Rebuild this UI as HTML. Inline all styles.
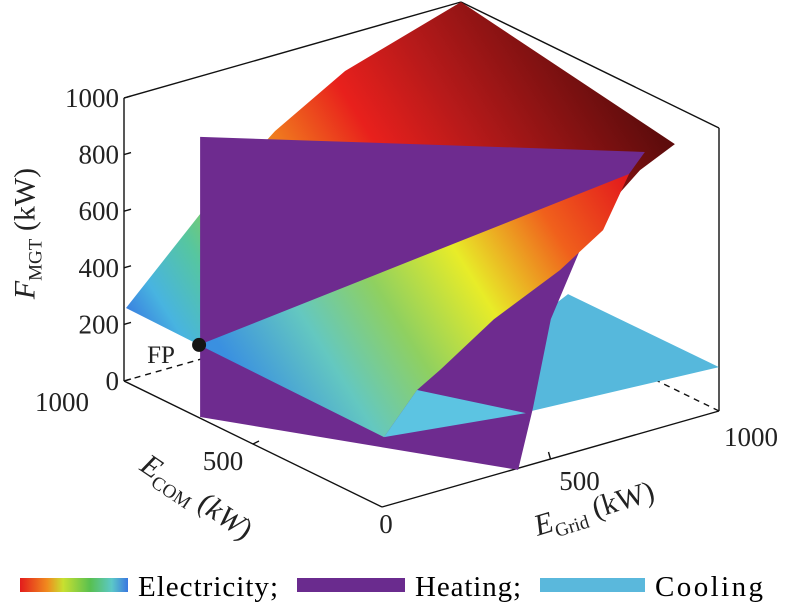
<!DOCTYPE html>
<html><head><meta charset="utf-8"><style>
html,body{margin:0;padding:0;background:#fff;}
svg{display:block;font-family:"Liberation Serif",serif;}
</style></head><body>
<svg id="chart" width="786" height="606" viewBox="0 0 786 606">
<defs>
<linearGradient id="elecGrad" gradientUnits="userSpaceOnUse" x1="600" y1="40" x2="140" y2="330">
<stop offset="0" stop-color="#5e0c0c"/><stop offset="0.3" stop-color="#b81a1a"/><stop offset="0.45" stop-color="#e8201c"/>
<stop offset="0.6" stop-color="#f07a1e"/><stop offset="0.72" stop-color="#9acc40"/><stop offset="0.84" stop-color="#56c6a0"/>
<stop offset="0.94" stop-color="#48b4e0"/><stop offset="1" stop-color="#3a82e0"/></linearGradient>
<linearGradient id="wedgeGrad" gradientUnits="userSpaceOnUse" x1="625" y1="180" x2="260" y2="410">
<stop offset="0" stop-color="#e31c1c"/><stop offset="0.2" stop-color="#f0601c"/><stop offset="0.42" stop-color="#e8ec28"/>
<stop offset="0.62" stop-color="#8fd060"/><stop offset="0.8" stop-color="#64c8c0"/><stop offset="1" stop-color="#3a90e0"/></linearGradient>
<linearGradient id="legGrad" x1="0" x2="1" y1="0" y2="0">
<stop offset="0" stop-color="#e31c1c"/><stop offset="0.25" stop-color="#f08a1e"/><stop offset="0.4" stop-color="#c8e030"/>
<stop offset="0.65" stop-color="#58c050"/><stop offset="0.85" stop-color="#5cc8c8"/><stop offset="1" stop-color="#3a78e0"/></linearGradient>
</defs>
<g id="axes"></g>
<g id="surfaces"></g>
<g id="labels"></g>
<g font-size="29">
<rect x="20" y="578" width="108" height="14" fill="url(#legGrad)"/>
<text x="138" y="596" textLength="140">Electricity;</text>
<rect x="297" y="578" width="108" height="14" fill="#6a2b8e"/>
<text x="415" y="596" textLength="106">Heating;</text>
<rect x="540" y="578" width="105" height="14" fill="#5ab8dc"/>
<text x="655" y="596" textLength="108">Cooling</text>
</g>
</svg>
<script>
// Data: points as [E_COM, E_Grid, F_MGT] in kW
const fTicks = [0, 200, 400, 600, 800, 1000];
const comTicks = [0, 500, 1000];
const gridTicks = [500, 1000];
const electricitySurface = [[1000,1000,1000],[171,1000,867],[306,1000,715],[0,53,219],[709,0,257],[1000,6,256],[1000,228,516],[1000,448,731],[1000,656,873]];
const coolingPlane = [[0,552,565],[0,1000,155],[0,442,189],[0,300,420]];
const heatingPlane = [[705,0,994],[0,780,990],[0,733,928],[0,590,715],[0,501,494],[0,448,198],[0,404,-6],[705,0,4]];
const electricityWedge = [[709,0,257],[0,733,928],[0,656,756],[0,528,658],[0,332,551],[0,175,428],[0,104,378],[0,6,245]];
const coolingTriangle = [[0,104,378],[0,427,187],[0,6,245]];
const fpPoint = [709,0,257];

function proj(c,g,f){ return [382 - 0.258*c + 0.337*g, 507 - 0.126*c - 0.096*g - 0.283*f]; }
const NS='http://www.w3.org/2000/svg';
function mk(tag, attrs, parent){ const e=document.createElementNS(NS,tag); for(const k in attrs) e.setAttribute(k,attrs[k]); parent.appendChild(e); return e; }
function pts(arr){ return arr.map(p=>proj(p[0],p[1],p[2]).join(',')).join(' '); }
const axes=document.getElementById('axes'), surf=document.getElementById('surfaces'), lab=document.getElementById('labels');

function line(a,b,dash,name){
  const p=proj(...a), q=proj(...b);
  const l=mk('line',{x1:p[0],y1:p[1],x2:q[0],y2:q[1],stroke:'#111','stroke-width':1.4},axes);
  if(dash) l.setAttribute('stroke-dasharray','6,5');
  
  
}
line([1000,0,0],[1000,0,1000],false,'z-axis-line');
line([1000,0,1000],[1000,1000,1000],false,'box-top-left-edge');
line([1000,1000,1000],[0,1000,1000],false,'box-top-right-edge');
line([0,1000,1000],[0,1000,0],false,'box-right-edge');
line([1000,0,0],[0,0,0],false,'e-com-axis-line');
line([0,0,0],[0,1000,0],false,'e-grid-axis-line');
line([1000,0,0],[1000,1000,0],true,'back-floor-edge-left');
line([0,1000,0],[1000,1000,0],true,'back-floor-edge-right');

function poly(arr, fill, name){
  const e=mk('polygon',{points:pts(arr),fill:fill},surf);
  
  
}
poly(electricitySurface,'url(#elecGrad)','electricity-surface');
poly(coolingPlane,'#56b8dc','cooling-plane');
poly(heatingPlane,'#6e2b8f','heating-plane');
poly(electricityWedge,'url(#wedgeGrad)','electricity-surface-front');
poly(coolingTriangle,'#5cc4e2','cooling-plane-front');

const fp=proj(...fpPoint);
const dot=mk('circle',{cx:fp[0],cy:fp[1],r:7,fill:'#151515'},surf);


const fpt=mk('text',{x:fp[0]-52,y:fp[1]+18,'font-size':25,fill:'#222'},lab);
fpt.textContent='FP';



fTicks.forEach(v=>{
  const p=proj(1000,0,v);
  const tk=mk('line',{x1:p[0],y1:p[1],x2:p[0]+7,y2:p[1]-2,stroke:'#111','stroke-width':1.4},lab);
  
  
  const t=mk('text',{x:p[0]-5,y:p[1]+9,'font-size':27,'text-anchor':'end',fill:'#222'},lab);
  t.textContent=v;
  
  
});
comTicks.forEach(v=>{
  const p=proj(v,0,0);
  const t=mk('text',{x:p[0]-(v===1000?62:(v===500?30:-4)),y:p[1]+(v===1000?30:26),'font-size':27,'text-anchor':'middle',fill:'#222'},lab);
  t.textContent=v;
  
  
  if(v===500){ const tk=mk('line',{x1:p[0],y1:p[1],x2:p[0]+6,y2:p[1]-3,stroke:'#111','stroke-width':1.4},lab);
    
     }
});
gridTicks.forEach(v=>{
  const p=proj(0,v,0);
  const t=mk('text',{x:p[0]+(v===1000?32:29),y:p[1]+(v===1000?35:31),'font-size':27,'text-anchor':'middle',fill:'#222'},lab);
  t.textContent=v;
  
  
  if(v===500){ const tk=mk('line',{x1:p[0],y1:p[1],x2:p[0]-2,y2:p[1]-7,stroke:'#111','stroke-width':1.4},lab);
    
     }
});
</script>
<svg width="0" height="0" style="position:absolute"></svg>
<div style="position:absolute;left:0;top:0;width:786px;height:606px;pointer-events:none;font-family:'Liberation Serif',serif;color:#222;">
<div style="position:absolute;left:-62px;top:214px;width:180px;text-align:center;font-size:30px;transform:rotate(-90deg);white-space:nowrap;"><i>F</i><sub style="font-size:19px">MGT</sub> (kW)</div>
<div style="position:absolute;left:100px;top:480px;width:190px;text-align:center;font-size:30px;transform:rotate(34deg);white-space:nowrap;"><i>E</i><sub style="font-size:19px">COM</sub> (<i>k</i><i>W</i>)</div>
<div style="position:absolute;left:505px;top:492px;width:180px;text-align:center;font-size:30px;transform:rotate(-17deg);white-space:nowrap;"><i>E</i><sub style="font-size:19px">Grid</sub> (kW)</div>
</div>
</body></html>
